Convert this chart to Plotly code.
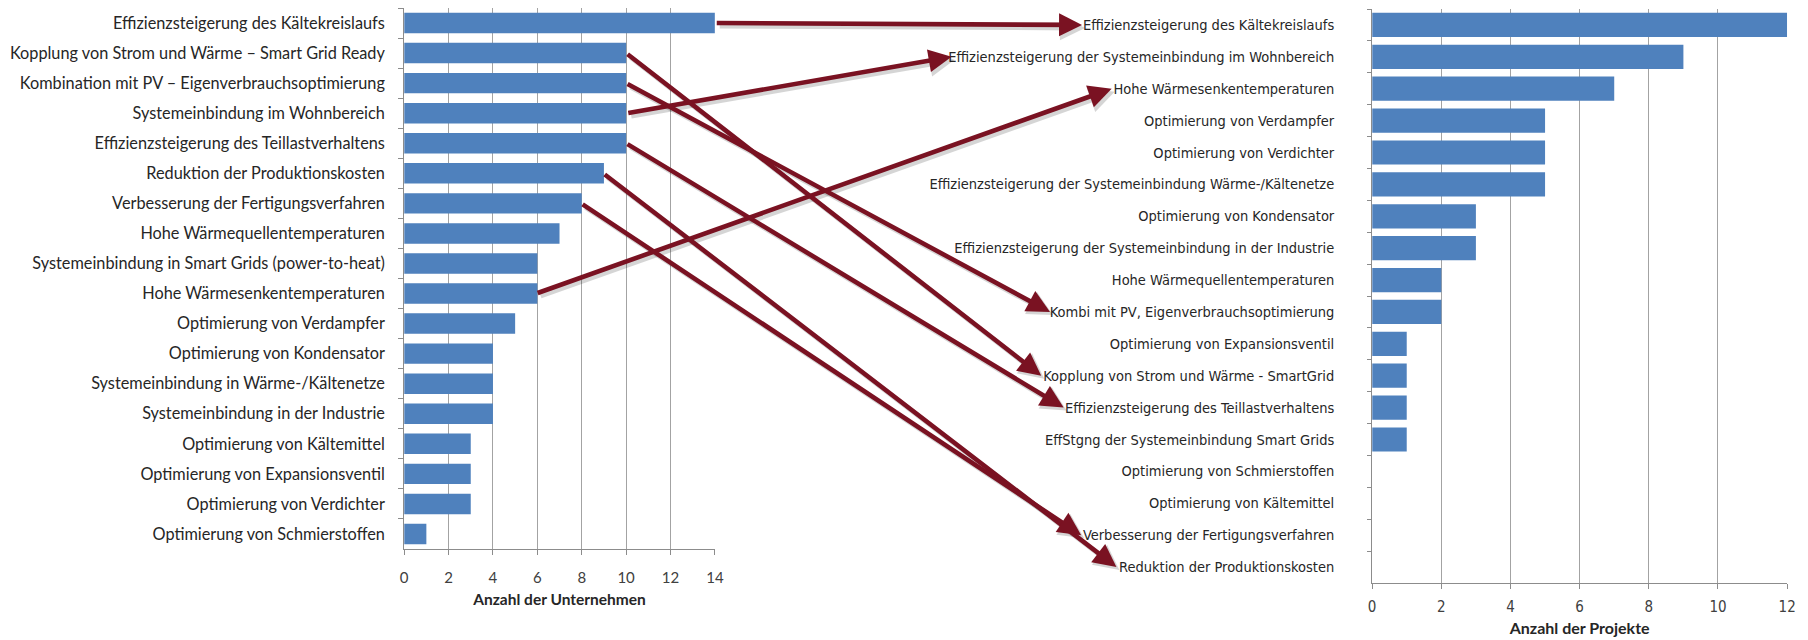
import plotly.graph_objects as go

# ---------------- data ----------------
left_categories = [
    "Effizienzsteigerung des Kältekreislaufs",
    "Kopplung von Strom und Wärme – Smart Grid Ready",
    "Kombination mit PV – Eigenverbrauchsoptimierung",
    "Systemeinbindung im Wohnbereich",
    "Effizienzsteigerung des Teillastverhaltens",
    "Reduktion der Produktionskosten",
    "Verbesserung der Fertigungsverfahren",
    "Hohe Wärmequellentemperaturen",
    "Systemeinbindung in Smart Grids (power-to-heat)",
    "Hohe Wärmesenkentemperaturen",
    "Optimierung von Verdampfer",
    "Optimierung von Kondensator",
    "Systemeinbindung in Wärme-/Kältenetze",
    "Systemeinbindung in der Industrie",
    "Optimierung von Kältemittel",
    "Optimierung von Expansionsventil",
    "Optimierung von Verdichter",
    "Optimierung von Schmierstoffen",
]
left_values = [14, 10, 10, 10, 10, 9, 8, 7, 6, 6, 5, 4, 4, 4, 3, 3, 3, 1]

right_categories = [
    "Effizienzsteigerung des Kältekreislaufs",
    "Effizienzsteigerung der Systemeinbindung im Wohnbereich",
    "Hohe Wärmesenkentemperaturen",
    "Optimierung von Verdampfer",
    "Optimierung von Verdichter",
    "Effizienzsteigerung der Systemeinbindung Wärme-/Kältenetze",
    "Optimierung von Kondensator",
    "Effizienzsteigerung der Systemeinbindung in der Industrie",
    "Hohe Wärmequellentemperaturen",
    "Kombi mit PV, Eigenverbrauchsoptimierung",
    "Optimierung von Expansionsventil",
    "Kopplung von Strom und Wärme - SmartGrid",
    "Effizienzsteigerung des Teillastverhaltens",
    "EffStgng der Systemeinbindung Smart Grids",
    "Optimierung von Schmierstoffen",
    "Optimierung von Kältemittel",
    "Verbesserung der Fertigungsverfahren",
    "Reduktion der Produktionskosten",
]
right_values = [12, 9, 7, 5, 5, 5, 3, 3, 2, 2, 1, 1, 1, 1, 0, 0, 0, 0]

left_ticks = [0, 2, 4, 6, 8, 10, 12, 14]
right_ticks = [0, 2, 4, 6, 8, 10, 12]

left_title = "Anzahl der Unternehmen"
right_title = "Anzahl der Projekte"

# arrows: left category -> right category
links = [
    ("Effizienzsteigerung des Kältekreislaufs", "Effizienzsteigerung des Kältekreislaufs"),
    ("Systemeinbindung im Wohnbereich", "Effizienzsteigerung der Systemeinbindung im Wohnbereich"),
    ("Hohe Wärmesenkentemperaturen", "Hohe Wärmesenkentemperaturen"),
    ("Kombination mit PV – Eigenverbrauchsoptimierung", "Kombi mit PV, Eigenverbrauchsoptimierung"),
    ("Kopplung von Strom und Wärme – Smart Grid Ready", "Kopplung von Strom und Wärme - SmartGrid"),
    ("Effizienzsteigerung des Teillastverhaltens", "Effizienzsteigerung des Teillastverhaltens"),
    ("Reduktion der Produktionskosten", "Reduktion der Produktionskosten"),
    ("Verbesserung der Fertigungsverfahren", "Verbesserung der Fertigungsverfahren"),
]

# ---------------- layout geometry (pixels) ----------------
W, H = 1808, 640
L_X0, L_X1, L_Y0, L_Y1 = 395, 708, 0, 541      # left plot area (top/bottom in px from top)
R_X0, R_X1, R_Y0, R_Y1 = 1370, 1788, 1, 575    # right plot area
L_MAX, R_MAX = 14, 12
L_LABEL_STANDOFF = 15
R_LABEL_STANDOFF = 34
R_LABEL_GAP = R_LABEL_STANDOFF + 5   # label end -> axis line

BAR_COLOR = "#4F81BD"
GRID = "#A3A3A3"
AXIS = "#8C8C8C"
TEXT = "#262626"
ARROW = "#7A1222"

LEFT_FAMILY = "Lato, Liberation Sans, sans-serif"
LEFT_FONT = dict(family=LEFT_FAMILY, size=16.3, color=TEXT)
RIGHT_FONT_FAMILY = "DejaVu Sans Condensed, DejaVu Sans, sans-serif"
RIGHT_FONT_SIZE = 14.5
RIGHT_FONT = dict(family=RIGHT_FONT_FAMILY, size=RIGHT_FONT_SIZE, color=TEXT)

# approximate Arial advance widths (1/1000 em) for label width estimation
ARIAL = {' ': 278, 'a': 556, 'b': 556, 'c': 500, 'd': 556, 'e': 556, 'f': 278, 'g': 556,
         'h': 556, 'i': 222, 'j': 222, 'k': 500, 'l': 222, 'm': 833, 'n': 556, 'o': 556,
         'p': 556, 'q': 556, 'r': 333, 's': 500, 't': 278, 'u': 556, 'v': 500, 'w': 722,
         'x': 500, 'y': 500, 'z': 500, 'ä': 556, 'ö': 556, 'ü': 556, 'A': 667, 'B': 667,
         'C': 722, 'D': 722, 'E': 667, 'F': 611, 'G': 778, 'H': 722, 'I': 278, 'J': 500,
         'K': 667, 'L': 556, 'M': 833, 'N': 722, 'O': 778, 'P': 667, 'Q': 778, 'R': 722,
         'S': 667, 'T': 611, 'U': 722, 'V': 667, 'W': 944, 'X': 667, 'Y': 667, 'Z': 611,
         'Ä': 667, '-': 333, ',': 278, '/': 278, '(': 333, ')': 333, '–': 556}
FONT_SCALE = 1.0  # DejaVu Sans Condensed relative to Arial


def text_width(s, size):
    return sum(ARIAL.get(c, 556) for c in s) / 1000.0 * size * FONT_SCALE


def px_x(px):
    return px / W


def px_y(py):
    return 1 - py / H


fig = go.Figure()
fig.add_trace(go.Bar(
    x=left_values, y=left_categories, orientation="h", width=0.68,
    marker=dict(color=BAR_COLOR, line=dict(width=0)),
    xaxis="x", yaxis="y", hoverinfo="x+y", showlegend=False,
))
fig.add_trace(go.Bar(
    x=right_values, y=right_categories, orientation="h", width=0.76,
    marker=dict(color=BAR_COLOR, line=dict(width=0)),
    xaxis="x2", yaxis="y2", hoverinfo="x+y", showlegend=False,
))

n_l, n_r = len(left_categories), len(right_categories)

fig.update_layout(
    width=W, height=H,
    margin=dict(l=0, r=0, t=0, b=0),
    paper_bgcolor="white", plot_bgcolor="white",
    xaxis=dict(
        domain=[px_x(L_X0), px_x(L_X1)], range=[0, L_MAX], anchor="y",
        tickvals=left_ticks, showgrid=True, gridcolor=GRID, gridwidth=1,
        showline=True, linecolor=AXIS, ticks="outside", ticklen=5, tickcolor=AXIS,
        ticklabelstandoff=10,
        tickfont=dict(family=LEFT_FAMILY, size=15, color="#404040"),
        zeroline=False,
        title=dict(text="<b>" + left_title + "</b>", standoff=9,
                   font=dict(family=LEFT_FAMILY, size=15.5, color=TEXT)),
    ),
    yaxis=dict(
        domain=[px_y(L_Y1), px_y(L_Y0)], anchor="x",
        type="category", categoryorder="array", categoryarray=left_categories,
        range=[n_l - 0.5, -0.5], showline=True, linecolor=AXIS,
        ticks="outside", ticklen=5, tickcolor=AXIS, tickson="boundaries",
        ticklabelstandoff=L_LABEL_STANDOFF, tickfont=LEFT_FONT, showgrid=False,
    ),
    xaxis2=dict(
        domain=[px_x(R_X0), px_x(R_X1)], range=[0, R_MAX], anchor="y2",
        tickvals=right_ticks, showgrid=True, gridcolor=GRID, gridwidth=1,
        showline=True, linecolor=AXIS, ticks="outside", ticklen=5, tickcolor=AXIS,
        ticklabelstandoff=5,
        tickfont=dict(family=RIGHT_FONT_FAMILY, size=15, color="#404040"),
        zeroline=False,
        title=dict(text="<b>" + right_title + "</b>", standoff=7,
                   font=dict(family=LEFT_FAMILY, size=16, color=TEXT)),
    ),
    yaxis2=dict(
        domain=[px_y(R_Y1), px_y(R_Y0)], anchor="x2",
        type="category", categoryorder="array", categoryarray=right_categories,
        range=[n_r - 0.5, -0.5], showline=True, linecolor=AXIS,
        ticks="outside", ticklen=4, tickcolor=AXIS, tickson="boundaries",
        ticklabelstandoff=R_LABEL_STANDOFF, tickfont=RIGHT_FONT, showgrid=False,
    ),
)

# ---------------- arrows ----------------
def left_point(cat):
    i = left_categories.index(cat)
    v = left_values[i]
    x = L_X0 + v / L_MAX * (L_X1 - L_X0) + 3
    y = L_Y0 + (i + 0.5) / n_l * (L_Y1 - L_Y0)
    return x, y


def right_point(cat):
    i = right_categories.index(cat)
    x = R_X0 - R_LABEL_GAP - text_width(cat, RIGHT_FONT_SIZE) - 5
    y = R_Y0 + (i + 0.5) / n_r * (R_Y1 - R_Y0)
    return x, y


annotations = []
for shadow in (True, False):
    for lc, rc in links:
        tx, ty = left_point(lc)
        hx, hy = right_point(rc)
        dx, dy = (3, 3) if shadow else (0, 0)
        annotations.append(dict(
            xref="paper", yref="paper", axref="pixel", ayref="pixel",
            x=px_x(hx + dx), y=px_y(hy + dy), ax=tx - hx, ay=ty - hy,
            text="", showarrow=True, arrowhead=2, arrowsize=1.0,
            arrowwidth=4.6 if not shadow else 5,
            arrowcolor="rgba(0,0,0,0.16)" if shadow else ARROW,
        ))
fig.update_layout(annotations=annotations)

fig.write_html("out.html")
